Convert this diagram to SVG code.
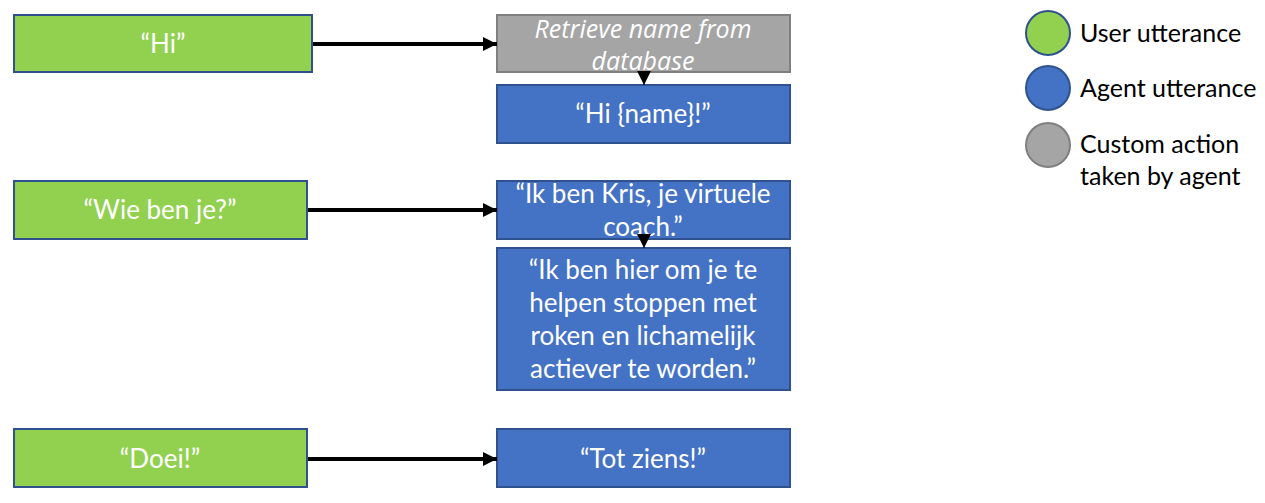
<svg xmlns="http://www.w3.org/2000/svg" width="1265" height="503" viewBox="0 0 1265 503">
<defs>
<style>
.user{fill:#92d050;stroke:#2f528f;stroke-width:2}
.agent{fill:#4472c4;stroke:#2f528f;stroke-width:2}
.action{fill:#a5a5a5;stroke:#7f7f7f;stroke-width:2}
.t{font-family:Lato,"Open Sans",sans-serif;font-size:26px;fill:#ffffff;text-anchor:middle;dominant-baseline:central}
.ti{font-family:"Open Sans",Lato,sans-serif;font-style:italic;font-size:25px}
.lg{font-family:Lato,"Open Sans",sans-serif;font-size:25px;fill:#000000;dominant-baseline:central}
.conn{stroke:#000;stroke-width:4;fill:none}
.conn2{stroke:#000;stroke-width:1;fill:none}
</style>
<marker id="ah" markerUnits="userSpaceOnUse" markerWidth="16" markerHeight="16" refX="14" refY="7" orient="auto"><path d="M0,0 L14,7 L0,14 Z" fill="#000"/></marker>
</defs>
<g id="n-hi"><rect class="user" x="14" y="15" width="298" height="57"/><text class="t" x="163" y="43">“Hi”</text></g>
<g id="n-retrieve"><rect class="action" x="497" y="15" width="293" height="57"/><text class="t ti" x="643" y="28">Retrieve name from</text><text class="t ti" x="643" y="60">database</text></g>
<g id="n-hiname"><rect class="agent" x="497" y="85" width="293" height="58"/><text class="t" x="643" y="113">“Hi {name}!”</text></g>
<g id="n-wie"><rect class="user" x="14" y="181" width="293" height="58"/><text class="t" x="160" y="209">“Wie ben je?”</text></g>
<g id="n-kris"><rect class="agent" x="497" y="181" width="293" height="58"/><text class="t" x="643" y="193">“Ik ben Kris, je virtuele</text><text class="t" x="643" y="226">coach.”</text></g>
<g id="n-hier"><rect class="agent" x="497" y="248" width="293" height="142"/><text class="t" x="643" y="269">“Ik ben hier om je te</text><text class="t" x="643" y="302">helpen stoppen met</text><text class="t" x="643" y="335">roken en lichamelijk</text><text class="t" x="643" y="368">actiever te worden.”</text></g>
<g id="n-doei"><rect class="user" x="14" y="429" width="293" height="58"/><text class="t" x="160" y="458">“Doei!”</text></g>
<g id="n-tot"><rect class="agent" x="497" y="429" width="293" height="58"/><text class="t" x="643" y="458">“Tot ziens!”</text></g>
<g id="legend">
<circle cx="1048" cy="33" r="22" class="user"/><text class="lg" x="1080" y="32">User utterance</text>
<circle cx="1048" cy="88" r="22" class="agent"/><text class="lg" x="1080" y="87">Agent utterance</text>
<circle cx="1048" cy="145" r="22" class="action"/><text class="lg" x="1080" y="143">Custom action</text><text class="lg" x="1080" y="175">taken by agent</text>
</g>
<g id="connectors">
<line class="conn" x1="313" y1="44" x2="497" y2="44" marker-end="url(#ah)"/>
<line class="conn" x1="308" y1="210" x2="497" y2="210" marker-end="url(#ah)"/>
<line class="conn" x1="308" y1="459" x2="497" y2="459" marker-end="url(#ah)"/>
<line class="conn2" x1="644" y1="73" x2="644" y2="85" marker-end="url(#ah)"/>
<line class="conn2" x1="644" y1="240" x2="644" y2="248" marker-end="url(#ah)"/>
</g>
</svg>
